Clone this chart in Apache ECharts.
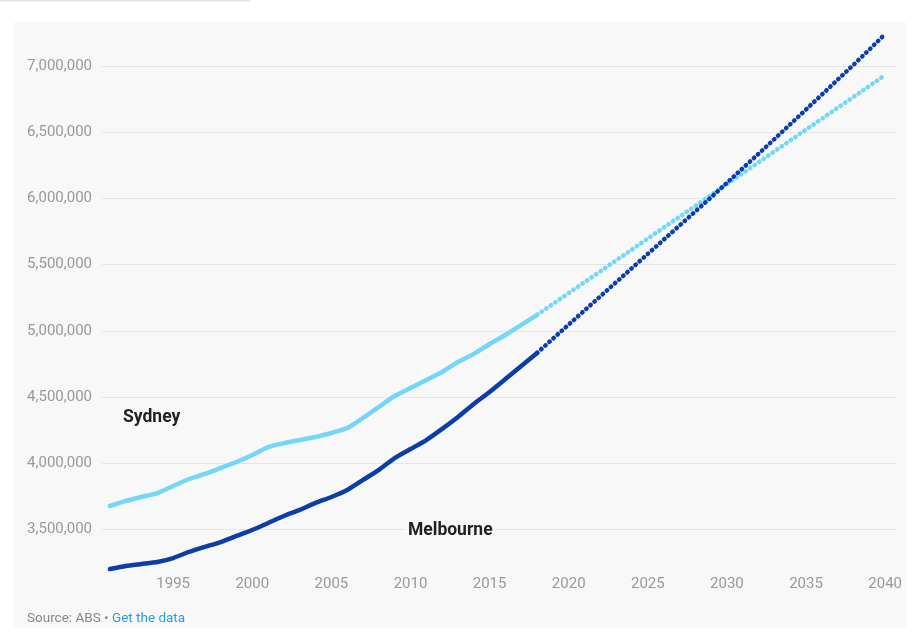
<!DOCTYPE html>
<html>
<head>
<meta charset="utf-8">
<script src="https://cdn.jsdelivr.net/npm/echarts@6/dist/echarts.min.js"></script>
<style>
html,body{margin:0;padding:0;background:#fff;}
#c{width:916px;height:640px;}
</style>
</head>
<body>
<div id="c"></div>
<script>
// Historical (solid) 1991-2018
const histYears = [1991,1992,1993,1994,1995,1996,1997,1998,1999,2000,2001,2002,2003,2004,2005,2006,2007,2008,2009,2010,2011,2012,2013,2014,2015,2016,2017,2018];
const sydneyHist = [3674000,3712000,3742000,3772000,3825000,3878000,3916000,3961000,4007000,4060000,4120000,4150000,4173000,4196000,4226000,4264000,4340000,4423000,4506000,4567000,4628000,4688000,4764000,4824000,4900000,4968000,5044000,5120000];
const melbourneHist = [3197000,3220000,3235000,3250000,3280000,3326000,3364000,3401000,3447000,3492000,3545000,3598000,3644000,3697000,3742000,3795000,3871000,3947000,4037000,4105000,4173000,4257000,4347000,4446000,4537000,4635000,4733000,4832000];
// Projection (dotted) 2018-2040
const projYears = [2018,2019,2020,2021,2022,2023,2024,2025,2026,2027,2028,2029,2030,2031,2032,2033,2034,2035,2036,2037,2038,2039,2040];
const sydneyProj = [5120000,5203000,5286000,5368000,5450000,5533000,5615000,5698000,5781000,5863000,5945000,6028000,6110000,6193000,6275000,6358000,6440000,6523000,6605000,6688000,6770000,6853000,6936000];
const melbourneProj = [4832000,4940000,5047000,5154000,5261000,5368000,5475000,5582000,5689000,5796000,5903000,6010000,6120000,6230000,6340000,6451000,6563000,6675000,6787000,6900000,7013000,7128000,7246000];
const xTickLabels = [1995,2000,2005,2010,2015,2020,2025,2030,2035,2040];
const seriesNames = ['Sydney','Melbourne'];

const SYD = '#74d6f8';
const MEL = '#0c3ea8';
const PANEL = '#f8f8f8';
const zip = (xs, ys) => xs.map((x, i) => [x, ys[i]]);

const chart = echarts.init(document.getElementById('c'));
chart.setOption({
  animation: false,
  backgroundColor: '#ffffff',
  graphic: [
    { type: 'rect', z: -10, shape: { x: 0, y: 0, width: 250, height: 1.5 }, style: { fill: '#e4e4e4' } },
    { type: 'rect', z: -10, shape: { x: 14, y: 22, width: 892, height: 606 }, style: { fill: PANEL } },
    { type: 'text', left: 121, top: 408, z: 10, style: { text: seriesNames[0], font: 'bold 17.5px Roboto', fill: '#222', backgroundColor: PANEL, padding: [1, 2] } },
    { type: 'text', left: 406, top: 521, z: 10, style: { text: seriesNames[1], font: 'bold 17.5px Roboto', fill: '#222', backgroundColor: PANEL, padding: [1, 2] } },
    { type: 'text', left: 27, top: 612, style: { rich: { a: { fontFamily: 'Roboto', fontSize: 13.5, fill: '#888' }, b: { fontFamily: 'Roboto', fontSize: 13.5, fill: '#2a9fd8' } }, text: '{a|Source: ABS • }{b|Get the data}' } }
  ],
  grid: { left: 102, right: 19, top: 26.9, bottom: 64.8 },
  xAxis: {
    type: 'value', min: 1990.5, max: 2040.75, interval: 0.5,
    axisLine: { show: false }, axisTick: { show: false }, splitLine: { show: false },
    axisLabel: {
      margin: 2, color: '#999', fontFamily: 'Roboto', fontSize: 15,
      showMinLabel: false, showMaxLabel: false,
      formatter: v => xTickLabels.indexOf(Math.round(v * 10) / 10) >= 0 ? String(Math.round(v)) : ''
    }
  },
  yAxis: {
    type: 'value', min: 3150000, max: 7300000, splitNumber: 8,
    axisLine: { show: false }, axisTick: { show: false },
    splitLine: { show: true, showMinLine: false, showMaxLine: false, lineStyle: { color: '#e6e6e6', width: 1 } },
    axisLabel: {
      margin: 10, color: '#999', fontFamily: 'Roboto', fontSize: 15,
      showMinLabel: false, showMaxLabel: false,
      formatter: v => v.toLocaleString('en-US')
    }
  },
  series: [
    { name: 'Sydney', type: 'line', data: zip(histYears, sydneyHist), showSymbol: false, smooth: 0.2,
      lineStyle: { color: SYD, width: 4.5, cap: 'round', join: 'round' }, z: 3 },
    { name: 'Melbourne', type: 'line', data: zip(histYears, melbourneHist), showSymbol: false, smooth: 0.2,
      lineStyle: { color: MEL, width: 4.5, cap: 'round', join: 'round' }, z: 4 },
    { name: 'Sydney projection', type: 'line', data: zip(projYears, sydneyProj), showSymbol: false,
      lineStyle: { color: SYD, width: 4.5, type: [0.5, 5], cap: 'round' }, z: 3 },
    { name: 'Melbourne projection', type: 'line', data: zip(projYears, melbourneProj), showSymbol: false,
      lineStyle: { color: MEL, width: 4.5, type: [0.5, 5], cap: 'round' }, z: 4 }
  ]
});
</script>
</body>
</html>
